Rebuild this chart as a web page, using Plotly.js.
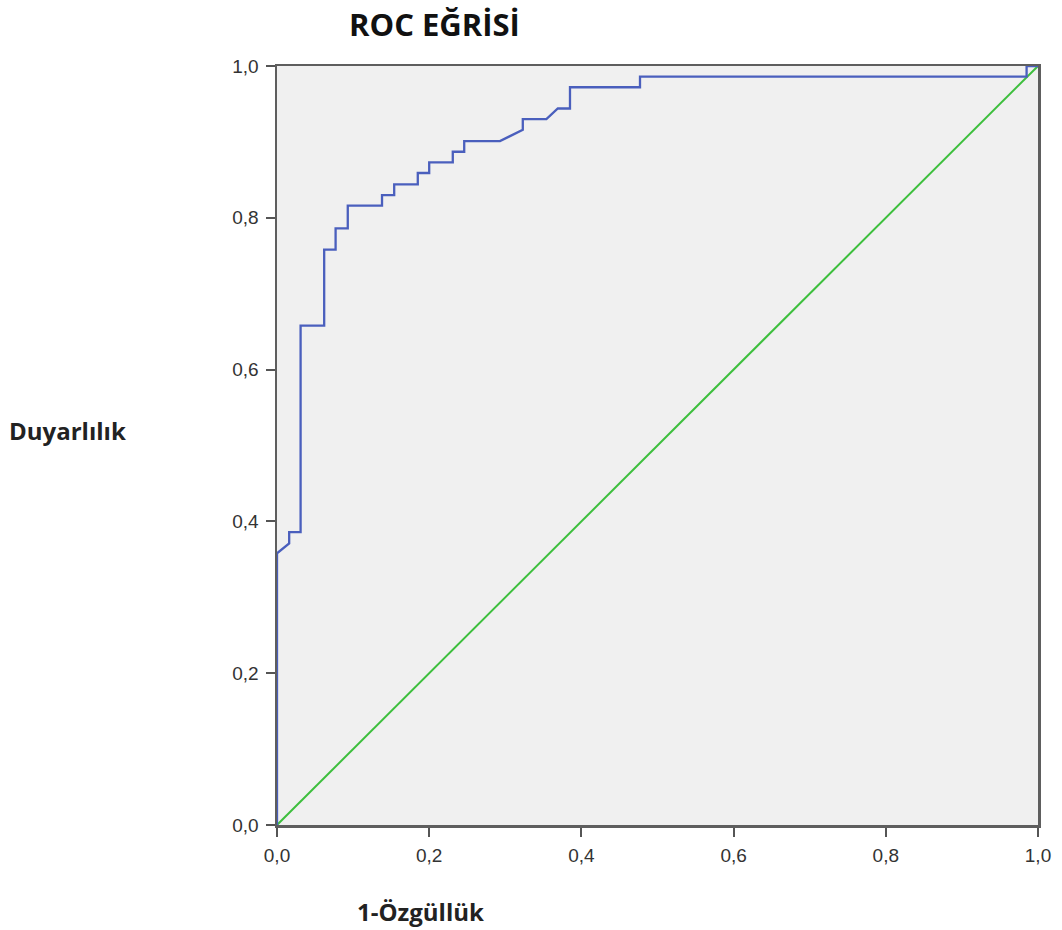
<!DOCTYPE html>
<html>
<head>
<meta charset="utf-8">
<script src="https://cdn.plot.ly/plotly-3.0.1.min.js"></script>
<style>body{margin:0;padding:0;background:#fff;}#chart{width:1062px;height:930px;}</style>
</head>
<body>
<div id="chart"></div>
<script>
// ROC curve (1-Özgüllük, Duyarlılık)
var rocX = [0, 0, 0.016, 0.016, 0.031, 0.031, 0.062, 0.062, 0.077, 0.077, 0.093, 0.093, 0.138, 0.138, 0.154, 0.154, 0.185, 0.185, 0.200, 0.200, 0.231, 0.231, 0.246, 0.246, 0.293, 0.323, 0.323, 0.354, 0.369, 0.385, 0.385, 0.477, 0.477, 0.985, 0.985, 1];
var rocY = [0, 0.358, 0.371, 0.386, 0.386, 0.658, 0.658, 0.758, 0.758, 0.786, 0.786, 0.816, 0.816, 0.830, 0.830, 0.844, 0.844, 0.859, 0.859, 0.873, 0.873, 0.887, 0.887, 0.901, 0.901, 0.916, 0.930, 0.930, 0.944, 0.944, 0.972, 0.972, 0.986, 0.986, 1, 1];
var refX = [0, 1];
var refY = [0, 1];
var tickVals = [0, 0.2, 0.4, 0.6, 0.8, 1.0];
var tickLabels = ["0,0", "0,2", "0,4", "0,6", "0,8", "1,0"];

var traces = [
  {x: refX, y: refY, mode: 'lines', line: {color: '#3dbf3d', width: 2}, hoverinfo: 'skip', showlegend: false},
  {x: rocX, y: rocY, mode: 'lines', line: {color: '#4a5fbd', width: 2.3}, showlegend: false}
];

var axisCommon = {
  range: [0, 1],
  tickvals: tickVals,
  ticktext: tickLabels,
  ticks: 'outside',
  ticklen: 9,
  tickwidth: 2,
  tickcolor: '#555',
  ticklabelstandoff: 3,
  showline: true,
  linecolor: '#5e5e5e',
  linewidth: 2.5,
  mirror: true,
  showgrid: false,
  zeroline: false,
  tickfont: {family: 'Liberation Sans', size: 19, color: '#333'}
};

var layout = {
  width: 1062, height: 930,
  margin: {l: 277, r: 24, t: 66, b: 105},
  paper_bgcolor: '#ffffff',
  plot_bgcolor: '#f0f0f0',
  xaxis: Object.assign({}, axisCommon),
  yaxis: Object.assign({}, axisCommon),
  annotations: [
    {text: '<b>ROC EĞRİSİ</b>', xref: 'paper', yref: 'paper', x: 0.2076, y: 1, yshift: 42, xanchor: 'center', yanchor: 'middle', showarrow: false, font: {family: 'Open Sans', size: 31, color: '#111'}},
    {text: '<b>Duyarlılık</b>', xref: 'paper', yref: 'paper', x: 0, xshift: -270, y: 0.52, xanchor: 'left', yanchor: 'middle', showarrow: false, font: {family: 'Open Sans', size: 24, color: '#222'}},
    {text: '<b>1-Özgüllük</b>', xref: 'paper', yref: 'paper', x: 0.189, y: 0, yshift: -86, xanchor: 'center', yanchor: 'middle', showarrow: false, font: {family: 'Open Sans', size: 24, color: '#222'}}
  ]
};

Plotly.newPlot('chart', traces, layout, {displayModeBar: false, staticPlot: true});
</script>
</body>
</html>
